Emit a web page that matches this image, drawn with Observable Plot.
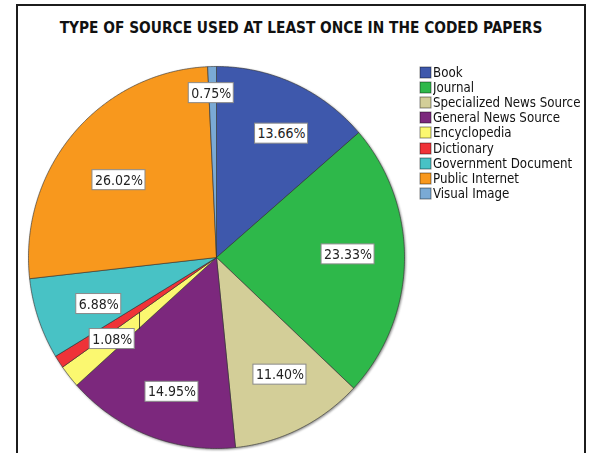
<!DOCTYPE html>
<html><head><meta charset="utf-8">
<script src="https://cdn.jsdelivr.net/npm/d3@7"></script>
<script src="https://cdn.jsdelivr.net/npm/@observablehq/plot@0.6"></script>
<style>
html,body{margin:0;padding:0;background:#fff;}
#page{position:relative;width:589px;height:453px;overflow:hidden;background:#fff;}
#frame{position:absolute;left:16px;top:4px;width:570px;height:480px;border:2px solid #1c1c1c;box-sizing:border-box;}
#title{position:absolute;left:16px;width:570px;top:19px;text-align:center;font:bold 15.3px "DejaVu Sans Condensed","DejaVu Sans",sans-serif;color:#111;white-space:nowrap;}
#chart{position:absolute;left:0;top:0;}
#chart svg{filter:drop-shadow(1px 1px 1px rgba(0,0,0,0.45));}
#legend{position:absolute;left:420px;top:65px;}
.lg-swatches{font:13.2px "DejaVu Sans Condensed","DejaVu Sans",sans-serif !important;color:#111 !important;margin:0 !important;}
.lg-swatch{height:15.1px;padding-bottom:0 !important;}
.lg-swatch>svg{margin-right:2px !important;overflow:visible;}
.lg-swatch svg rect{stroke:rgba(0,0,0,0.45);stroke-width:1px;}
</style></head>
<body>
<div id="page"><div id="frame"></div><div id="title"></div><div id="chart"></div><div id="legend"></div></div>
<script>
const title = "TYPE OF SOURCE USED AT LEAST ONCE IN THE CODED PAPERS";
const categories = ["Book","Journal","Specialized News Source","General News Source","Encyclopedia","Dictionary","Government Document","Public Internet","Visual Image"];
const percents = [13.66, 23.33, 11.40, 14.95, 1.93, 1.08, 6.88, 26.02, 0.75];
const labelTexts = ["13.66%","23.33%","11.40%","14.95%",null,"1.08%","6.88%","26.02%","0.75%"];
const colors = ["#3e58ac","#2eb84a","#d3ce98","#7c287d","#fbf870","#ef3338","#48c2c5","#f8981d","#7aaad5"];

const W = 589, H = 453, CX = 216, CY = 257, RX = 188, RY = 191;
const FONT = "DejaVu Sans Condensed";

document.getElementById("title").textContent = title;

// slice polygons
const total = d3.sum(percents);
let acc = 0;
const slices = categories.map((c, i) => {
  const a0 = acc / total * 2 * Math.PI; acc += percents[i];
  const a1 = acc / total * 2 * Math.PI;
  return {c, i, a0, a1, t: labelTexts[i]};
});
const pts = [];
for (const s of slices) {
  pts.push({c: s.c, u: 0, v: 0});
  const n = Math.max(2, Math.ceil((s.a1 - s.a0) / (Math.PI / 360)));
  for (let k = 0; k <= n; k++) {
    const a = s.a0 + (s.a1 - s.a0) * k / n;
    pts.push({c: s.c, u: Math.sin(a), v: Math.cos(a)});
  }
  pts.push({c: s.c, u: 0, v: 0});
}

// label placement (layout rule + small nudges)
const baseRot = -2.5, baseK = 0.7;
const nudge = {
  "Book": {da: 6, k: 1.05},
  "General News Source": {k: 1.06},
  "Government Document": {k: 0.96},
  "Public Internet": {k: 0.94},
  "Dictionary": {da: -2},
  "Visual Image": {da: 2, k: 1.23}
};
const ctx = document.createElement("canvas").getContext("2d");
const FS = 14;
ctx.font = `${FS}px "${FONT}"`;
const boxH = 20;
const labels = slices.filter(s => s.t).map(s => {
  const nd = nudge[s.c] || {};
  const mid = (s.a0 + s.a1) / 2 + (baseRot + (nd.da || 0)) * Math.PI / 180;
  const k = baseK * (nd.k || 1);
  const u = k * Math.sin(mid);
  const v = k * Math.cos(mid);
  const w = ctx.measureText(s.t).width + 5;
  return {c: s.c, t: s.t, u, v,
    x1: u - w / 2 / RX, x2: u + w / 2 / RX,
    y1: v - boxH / 2 / RY, y2: v + boxH / 2 / RY};
});

// leader line for the small Dictionary label
const dict = slices.find(s => s.c === "Dictionary");
const dl = labels.find(l => l.c === "Dictionary");
const tipU = 0.5 * Math.sin(dict.a0), tipV = 0.5 * Math.cos(dict.a0);
const leader = [{x1: tipU, y1: tipV, x2: tipU, y2: dl.y2}];

const chart = Plot.plot({
  width: W, height: H, margin: 0,
  x: {domain: [-CX / RX, (W - CX) / RX], axis: null},
  y: {domain: [-(H - CY) / RY, CY / RY], axis: null},
  color: {domain: categories, range: colors},
  style: {background: "transparent", overflow: "visible"},
  marks: [
    Plot.line(pts, {x: "u", y: "v", z: "c", fill: "c", stroke: "#333", strokeWidth: 0.6, curve: "linear", strokeLinejoin: "round"}),
    Plot.link(leader, {x1: "x1", y1: "y1", x2: "x2", y2: "y2", stroke: "#222", strokeWidth: 0.8}),
    Plot.rect(labels, {x1: "x1", x2: "x2", y1: "y1", y2: "y2", fill: "white", stroke: "#8a8a8a", strokeWidth: 1}),
    Plot.text(labels, {x: "u", y: "v", text: "t", fontSize: FS, fontFamily: FONT, fill: "#222"})
  ]
});
document.getElementById("chart").appendChild(chart);

const legend = Plot.legend({
  color: {domain: categories, range: colors},
  legend: "swatches", columns: 1, swatchSize: 11, className: "lg"
});
document.getElementById("legend").appendChild(legend);
</script>
</body></html>
